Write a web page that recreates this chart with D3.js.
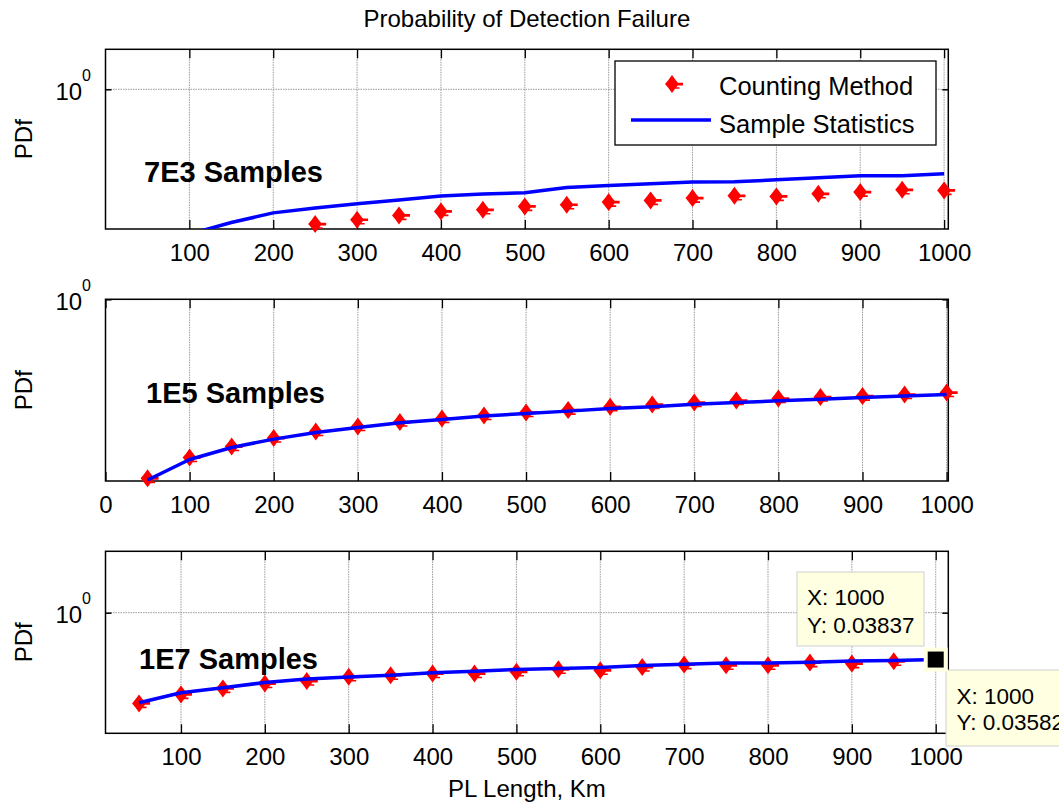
<!DOCTYPE html>
<html>
<head>
<meta charset="utf-8">
<script src="https://cdn.jsdelivr.net/npm/d3@7"></script>
<style>
  html, body { margin: 0; padding: 0; background: #fff; }
  svg { display: block; }
</style>
</head>
<body>
<div id="chart"></div>
<script>
// ---------------- DATA ----------------
const lengthKm = [50,100,150,200,250,300,350,400,450,500,550,600,650,700,750,800,850,900,950,1000];

const count7E3 = [null,null,null,null,0.00554,0.00654,0.00772,0.00901,0.00959,0.01093,0.01167,0.01290,0.01377,0.01506,0.01644,0.01606,0.01778,0.01897,0.02074,0.02026];
const stats7E3 = [null,0.00375,0.00587,0.00851,0.01028,0.01208,0.01403,0.01637,0.0177,0.01853,0.02275,0.02455,0.0261,0.0279,0.0282,0.0305,0.033,0.0356,0.0356,0.0384];

const count1E5 = [0.00217,0.00442,0.00645,0.00863,0.01078,0.01279,0.01493,0.01683,0.01866,0.02066,0.02245,0.02514,0.02720,0.02912,0.0312,0.0334,0.0351,0.0363,0.0383,0.0410];
const stats1E5 = [0.00205,0.00413,0.00625,0.00831,0.01045,0.01241,0.01453,0.01633,0.01829,0.02005,0.02169,0.02382,0.02514,0.02756,0.02912,0.0309,0.0327,0.0346,0.0363,0.0383];

const count1E7 = [0.00182,0.00340,0.00516,0.00726,0.00859,0.01157,0.01293,0.01455,0.01455,0.01637,0.01950,0.01820,0.02290,0.02704,0.02576,0.02576,0.0311,0.0290,0.0340,0.0358];
const stats1E7 = [0.00191,0.00380,0.00538,0.00778,0.00986,0.01133,0.01293,0.01528,0.01709,0.01923,0.02047,0.02194,0.02522,0.02761,0.0302,0.0302,0.0318,0.0347,0.0357,0.03837];

const xTicksA = [100,200,300,400,500,600,700,800,900,1000];
const xTicksB = [0,100,200,300,400,500,600,700,800,900,1000];
const yTicks = [1];

const titleText = "Probability of Detection Failure";
const xLabel = "PL Length, Km";
const yLabel = "PDf";
const legendNames = ["Counting Method", "Sample Statistics"];
const tipLine = {x: 1000, y: "0.03837"};
const tipCount = {x: 1000, y: "0.03582"};

// ---------------- LAYOUT ----------------
const W = 1059, H = 806;
const LEFT = 105.5, RIGHT = 948.3;
const FONT = "'Liberation Sans', Arial, Helvetica, sans-serif";

const panels = [
  {top: 49.3, bottom: 229, xDomain: [0, 1005], yDomain: [0.00457, 4.68], xTicks: xTicksA,
   count: count7E3, stats: stats7E3, note: "7E3 Samples", noteX: 144, noteY: 181.5},
  {top: 299.3, bottom: 481, xDomain: [0, 1002], yDomain: [0.00198, 1], xTicks: xTicksB,
   count: count1E5, stats: stats1E5, note: "1E5 Samples", noteX: 146, noteY: 402.5},
  {top: 551.3, bottom: 733.3, xDomain: [10, 1015], yDomain: [2.27e-4, 71.6], xTicks: xTicksA,
   count: count1E7, stats: stats1E7, note: "1E7 Samples", noteX: 139, noteY: 668.5}
];

const svg = d3.select("#chart").append("svg")
  .attr("width", W).attr("height", H)
  .attr("font-family", FONT);

svg.append("rect").attr("width", W).attr("height", H).attr("fill", "#fff");

// marker path (red diamond-star marker with small tails)
const markerPath = "M0,-9 L3.8,-3.8 L7,0 L3.8,3.8 L0,9 L-3.8,3.8 L-7,0 L-3.8,-3.8 Z " +
                   "M5,-1.3 L11,-1.3 L11,1.4 L5,1.4 Z M2,3.2 L7.5,3.2 L7.5,4.8 L2,4.8 Z";

const defs = svg.append("defs");

panels.forEach((p, i) => {
  const x = d3.scaleLinear().domain(p.xDomain).range([LEFT, RIGHT]);
  const y = d3.scaleLog().domain(p.yDomain).range([p.bottom, p.top]);
  const g = svg.append("g");

  defs.append("clipPath").attr("id", "clip" + i)
    .append("rect").attr("x", LEFT).attr("y", p.top)
    .attr("width", RIGHT - LEFT).attr("height", p.bottom - p.top);

  // grid
  g.append("g").selectAll("line").data(p.xTicks).join("line")
    .attr("x1", d => x(d)).attr("x2", d => x(d))
    .attr("y1", p.top).attr("y2", p.bottom)
    .attr("stroke", "#9a9a9a").attr("stroke-width", 1).attr("stroke-dasharray", "1.5,1");
  g.append("g").selectAll("line").data(yTicks).join("line")
    .attr("x1", LEFT).attr("x2", RIGHT)
    .attr("y1", d => y(d)).attr("y2", d => y(d))
    .attr("stroke", "#9a9a9a").attr("stroke-width", 1).attr("stroke-dasharray", "1.5,1");

  // axes (ticks inward)
  const xb = g.append("g").attr("transform", `translate(0,${p.bottom})`)
    .call(d3.axisBottom(x).tickValues(p.xTicks).tickSizeInner(-9).tickSizeOuter(0)
      .tickPadding(15).tickFormat(d3.format("d")));
  xb.select(".domain").remove();
  xb.selectAll("text").attr("font-size", 24).attr("font-family", FONT).attr("fill", "#000");
  xb.selectAll("line").attr("stroke", "#000").attr("stroke-width", 1.3);

  const xt = g.append("g").attr("transform", `translate(0,${p.top})`)
    .call(d3.axisTop(x).tickValues(p.xTicks).tickSizeInner(-9).tickSizeOuter(0).tickFormat(""));
  xt.select(".domain").remove();
  xt.selectAll("line").attr("stroke", "#000").attr("stroke-width", 1.3);

  const yl = g.append("g").attr("transform", `translate(${LEFT},0)`)
    .call(d3.axisLeft(y).tickValues(yTicks).tickSizeInner(-6).tickSizeOuter(0).tickFormat(""));
  yl.select(".domain").remove();
  yl.selectAll("line").attr("stroke", "#000").attr("stroke-width", 1.5);
  const yr = g.append("g").attr("transform", `translate(${RIGHT},0)`)
    .call(d3.axisRight(y).tickValues(yTicks).tickSizeInner(-6).tickSizeOuter(0).tickFormat(""));
  yr.select(".domain").remove();
  yr.selectAll("line").attr("stroke", "#000").attr("stroke-width", 1.5);

  // y tick labels 10^0
  yTicks.forEach(t => {
    const tx = g.append("text").attr("x", 91).attr("y", y(t) + 10.5)
      .attr("text-anchor", "end").attr("font-size", 24).attr("fill", "#000");
    tx.append("tspan").text("10");
    tx.append("tspan").attr("font-size", 16).attr("dy", -19).text(Math.round(Math.log10(t)));
  });

  // box
  g.append("rect").attr("x", LEFT).attr("y", p.top)
    .attr("width", RIGHT - LEFT).attr("height", p.bottom - p.top)
    .attr("fill", "none").attr("stroke", "#000").attr("stroke-width", 1.5);

  // y label
  g.append("text")
    .attr("transform", `translate(32,${(p.top + p.bottom) / 2}) rotate(-90)`)
    .attr("text-anchor", "middle").attr("font-size", 24).attr("fill", "#000").text(yLabel);

  // annotation
  g.append("text").attr("x", p.noteX).attr("y", p.noteY)
    .attr("font-size", 29).attr("font-weight", "bold").attr("fill", "#000").text(p.note);

  // data
  const statsData = lengthKm.map((k, j) => ({k, v: p.stats[j]}));
  const countData = lengthKm.map((k, j) => ({k, v: p.count[j]})).filter(d => d.v != null);

  const line = d3.line().defined(d => d.v != null).x(d => x(d.k)).y(d => y(d.v));

  g.append("g").attr("class", "markers").selectAll("path").data(countData).join("path")
    .attr("d", markerPath).attr("fill", "#ff0000")
    .attr("transform", d => `translate(${x(d.k)},${y(d.v)})`);

  g.append("path").datum(statsData).attr("d", line)
    .attr("clip-path", `url(#clip${i})`)
    .attr("fill", "none").attr("stroke", "#0000ff").attr("stroke-width", 3.5)
    .attr("stroke-linejoin", "round");

  p.x = x; p.y = y;
});

// title and x label
svg.append("text").attr("x", (LEFT + RIGHT) / 2).attr("y", 27)
  .attr("text-anchor", "middle").attr("font-size", 24).attr("fill", "#000").text(titleText);
svg.append("text").attr("x", (LEFT + RIGHT) / 2).attr("y", 797)
  .attr("text-anchor", "middle").attr("font-size", 24).attr("fill", "#000").text(xLabel);

// legend
const lg = svg.append("g");
lg.append("rect").attr("x", 615).attr("y", 61).attr("width", 321).attr("height", 84)
  .attr("fill", "#fff").attr("stroke", "#000").attr("stroke-width", 1.3);
lg.append("path").attr("d", markerPath).attr("fill", "#ff0000")
  .attr("transform", "translate(672,84)");
lg.append("line").attr("x1", 631).attr("x2", 711).attr("y1", 120).attr("y2", 120)
  .attr("stroke", "#0000ff").attr("stroke-width", 3.5);
lg.append("text").attr("x", 719).attr("y", 95).attr("font-size", 25.5).attr("fill", "#000").text(legendNames[0]);
lg.append("text").attr("x", 719).attr("y", 132.5).attr("font-size", 25.5).attr("fill", "#000").text(legendNames[1]);

// data tips on bottom panel
const pb = panels[2];
const tipG = svg.append("g");
const tipFill = "#ffffe1", tipStroke = "#cfcfcf";
const TIPFS = 22.5;
// tip for line
tipG.append("rect").attr("x", 797).attr("y", 572).attr("width", 127).attr("height", 74)
  .attr("fill", tipFill).attr("stroke", tipStroke).attr("stroke-width", 1);
tipG.append("text").attr("x", 807).attr("y", 605).attr("font-size", TIPFS).attr("fill", "#000")
  .text("X: " + tipLine.x);
tipG.append("text").attr("x", 807).attr("y", 632.5).attr("font-size", TIPFS).attr("fill", "#000")
  .text("Y: " + tipLine.y);
// tip for markers
tipG.append("rect").attr("x", 946).attr("y", 670).attr("width", 140).attr("height", 76)
  .attr("fill", tipFill).attr("stroke", tipStroke).attr("stroke-width", 1);
tipG.append("text").attr("x", 956.5).attr("y", 704).attr("font-size", TIPFS).attr("fill", "#000")
  .text("X: " + tipCount.x);
tipG.append("text").attr("x", 956.5).attr("y", 729.5).attr("font-size", TIPFS).attr("fill", "#000")
  .text("Y: " + tipCount.y);
// cursor square
const cx = pb.x(tipLine.x), cy = pb.y(+tipLine.y);
tipG.append("rect").attr("x", cx - 12).attr("y", cy - 12).attr("width", 24).attr("height", 24)
  .attr("fill", tipFill);
tipG.append("rect").attr("x", cx - 8).attr("y", cy - 8).attr("width", 16).attr("height", 16)
  .attr("fill", "#000");
</script>
</body>
</html>
